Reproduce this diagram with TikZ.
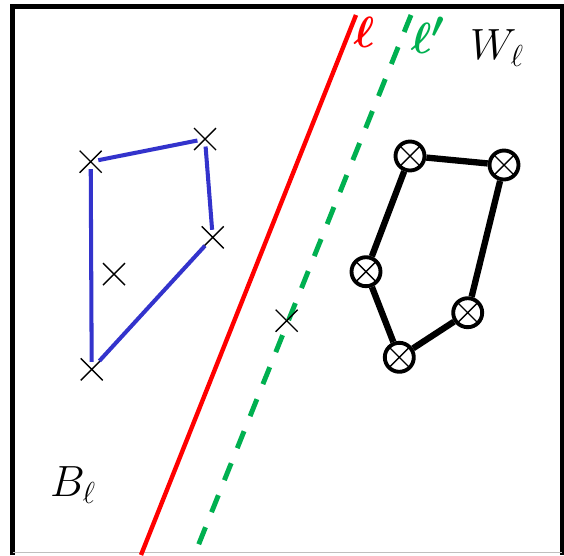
\documentclass[tikz,border=0pt]{standalone}
\usepackage{amsmath,amssymb}
\usepackage{bm}
\usepackage{xcolor}
\usetikzlibrary{shapes.misc}
\definecolor{lred}{RGB}{255,0,0}
\definecolor{lgreen}{RGB}{0,176,80}
\definecolor{polyblue}{RGB}{51,51,204}

\begin{document}
\begin{tikzpicture}[
    x=0.02cm, y=-0.02cm,
    font=\fontsize{24}{28}\selectfont,
    xmark/.style={
        cross out,
        draw=black,
        line width=0.8pt,
        minimum size=0.44cm,
        inner sep=0pt,
        outer sep=0pt
    },
    omark/.style={
        circle,
        draw=black,
        line width=2.2pt,
        fill=white,
        minimum size=0.58cm,
        inner sep=0pt,
        path picture={
            \draw[line width=0.8pt]
            (path picture bounding box.north west) -- (path picture bounding box.south east)
            (path picture bounding box.north east) -- (path picture bounding box.south west);
        }
    },
    lbl/.style={font=\fontsize{29}{32}\selectfont},
    frame/.style={black, line width=2.8pt},
    bedge/.style={polyblue, line width=2.3pt, shorten <=-0.07cm, shorten >=-0.07cm},
    kedge/.style={black, line width=3.6pt},
    lline/.style={lred, line width=2.5pt},
    lpline/.style={lgreen, line width=2.8pt, dash pattern=on 0.366cm off 0.324cm}
]
\useasboundingbox (0,0) rectangle (564,555);

% frame
\draw[frame] (12.5,555) -- (12.5,6.5) -- (562,6.5) -- (562,555);
\draw[gray!50, line width=0.6pt] (12.5,552.5) -- (562,552.5);

% separating lines
\coordinate (ltop) at (356,15);
\coordinate (lbot) at (141,555);
\coordinate (lptop) at (411,15);
\coordinate (lpbot) at (198,546);
\draw[lline] (lbot) -- (ltop);
\draw[lpline] (lptop) -- (lpbot);

\node[lbl, text=lred] (lab) at (364,32) {$\bm{\ell}$};
\node[lbl, text=lgreen] (labp) at (428,35) {$\bm{\ell'}$};

% blue points
\node[xmark] (a) at (90.7,161.7) {};
\node[xmark] (b) at (205,139) {};
\node[xmark] (c) at (212.7,237.3) {};
\node[xmark] (d) at (91.7,369.3) {};
\node[xmark] (e) at (114,274) {};
\node[xmark] (m) at (286.7,320.7) {};

\draw[bedge] (a) -- (b);
\draw[bedge] (b) -- (c);
\draw[bedge] (c) -- (d);
\draw[bedge] (d) -- (a);

% black points
\node[omark] (p1) at (410,156) {};
\node[omark] (p2) at (504,165) {};
\node[omark] (p3) at (467.7,312.7) {};
\node[omark] (p4) at (399.3,357.3) {};
\node[omark] (p5) at (366,271.7) {};

\draw[kedge] (p1) -- (p2);
\draw[kedge] (p2) -- (p3);
\draw[kedge] (p3) -- (p4);
\draw[kedge] (p4) -- (p5);
\draw[kedge] (p5) -- (p1);

\node (wl) at (497,48) {$W_{\ell}$};
\node (bl) at (73,485) {$B_{\ell}$};

\end{tikzpicture}
\end{document}
